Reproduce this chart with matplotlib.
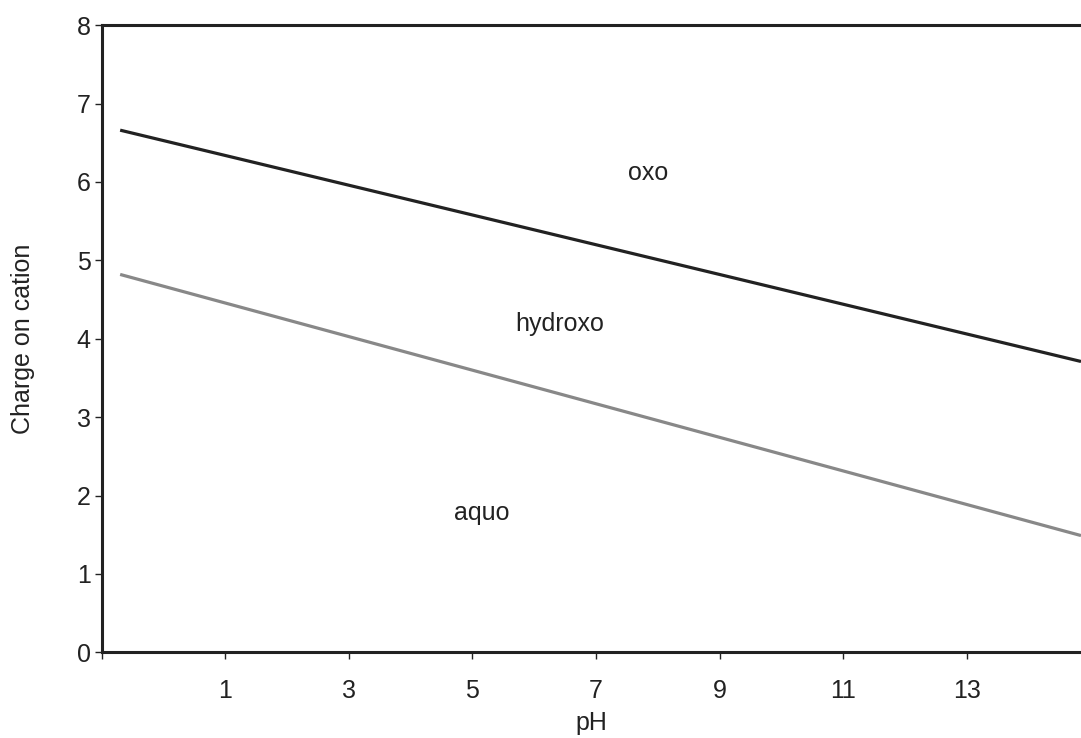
import matplotlib
matplotlib.use("Agg")
import matplotlib.pyplot as plt

plt.rcParams['font.family'] = ['Liberation Sans', 'DejaVu Sans']

# boundary lines (pH, charge)
ph_ends = [-0.7, 14.85]
oxo_line = [6.66, 3.71]        # hydroxo / oxo boundary
aquo_line = [4.82, 1.49]       # aquo / hydroxo boundary

xticks = [-1, 1, 3, 5, 7, 9, 11, 13]
xtick_labels = ['', '1', '3', '5', '7', '9', '11', '13']
yticks = [0, 1, 2, 3, 4, 5, 6, 7, 8]

regions = ['oxo', 'hydroxo', 'aquo']
region_x = [7.85, 6.41, 5.15]
region_y = [6.12, 4.19, 1.78]

fs = 18

fig = plt.figure(figsize=(10.81, 7.38), dpi=100)
ax = fig.add_axes([0.094, 0.116, 0.906, 0.85])

ax.plot(ph_ends, oxo_line, color='#222222', lw=2.3, solid_capstyle='butt')
ax.plot(ph_ends, aquo_line, color='#888888', lw=2.3, solid_capstyle='butt')

for name, x, y in zip(regions, region_x, region_y):
    ax.text(x, y, name, ha='center', va='center', fontsize=fs, color='#222222')

ax.set_xlim(-1, 14.85)
ax.set_ylim(0, 8)
ax.set_xticks(xticks)
ax.set_xticklabels(xtick_labels)
ax.set_yticks(yticks)

for side in ['left', 'bottom', 'top']:
    ax.spines[side].set_color('#222222')
    ax.spines[side].set_linewidth(2.2)
ax.spines['right'].set_visible(False)

ax.tick_params(axis='x', direction='out', length=5, width=1, color='#222222',
               labelsize=fs, pad=14, labelcolor='#222222')
ax.tick_params(axis='y', direction='out', length=5, width=1, color='#222222',
               labelsize=fs, pad=3, labelcolor='#222222')

ax.set_xlabel('pH', fontsize=fs, color='#222222', labelpad=6)
ax.set_ylabel('Charge on cation', fontsize=fs, color='#222222', labelpad=30)

fig.savefig('out.png', dpi=100)
